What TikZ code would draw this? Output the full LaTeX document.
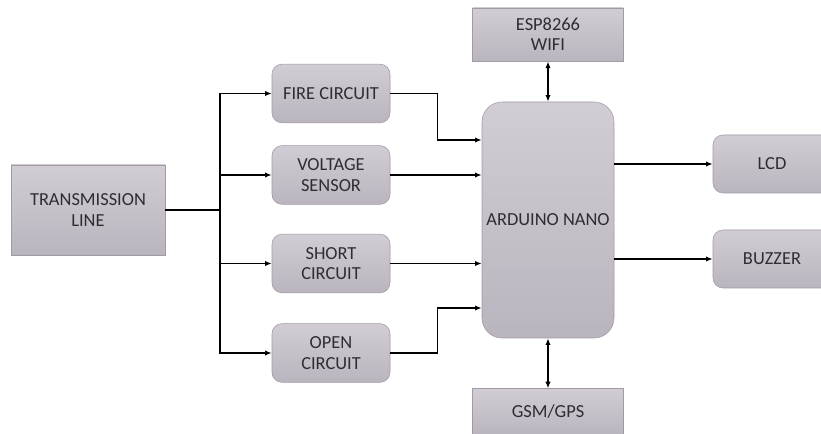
\documentclass[tikz,border=0pt]{standalone}
\usepackage{fontspec}
\setmainfont{Carlito}
\usepackage{xcolor}
\usepackage{tikz}
\usetikzlibrary{calc, arrows.meta, positioning}

\definecolor{boxtop}{RGB}{210,205,212}
\definecolor{boxbot}{RGB}{186,180,190}
\definecolor{boxline}{RGB}{160,154,166}
\definecolor{boxtext}{RGB}{45,45,50}

\begin{document}
\begin{tikzpicture}[
      x=0.75pt, y=-0.75pt,
      base/.style={draw=boxline, top color=boxtop, bottom color=boxbot,
                   text=boxtext, align=center, inner sep=1pt,
                   font=\fontsize{13.8}{15.2}\selectfont},
      sqbox/.style={base, minimum width=113pt, minimum height=40pt},
      rbox/.style={base, rounded corners=7.5pt, minimum width=88.5pt,
                   minimum height=44pt},
      line/.style={line width=1pt, black},
      arr/.style={line, -{Latex[length=5pt, width=4pt]}},
      darr/.style={line, {Latex[length=5pt, width=4pt]}-{Latex[length=5pt, width=4pt]}}
    ]
    \useasboundingbox (0,0) rectangle (821,434);

    \node[sqbox, minimum width=115.5pt, minimum height=67.5pt] (tl) at (88,210)
      {TRANSMISSION\\LINE};

    \node[rbox] (fire)  at (331,93.5)  {FIRE CIRCUIT};
    \node[rbox] (volt)  at (331,175)   {VOLTAGE\\SENSOR};
    \node[rbox] (short) at (331,263.5) {SHORT\\CIRCUIT};
    \node[rbox] (open)  at (331,353)   {OPEN\\CIRCUIT};

    \node[base, rounded corners=15pt, minimum width=99pt, minimum height=177pt]
      (ard) at (548,220) {ARDUINO NANO};

    \node[sqbox] (esp) at (548,34.5) {ESP8266\\WIFI};
    \node[sqbox, minimum height=35pt] (gsm) at (548,412) {GSM/GPS};

    \node[rbox, minimum height=43.5pt] (lcd) at (772,164) {LCD};
    \node[rbox, minimum height=43.5pt] (buz) at (772,259) {BUZZER};

    % split of the line into the four sensing circuits
    \coordinate (split) at (220,210);
    \draw[line] (tl.east) -- (split);
    \draw[arr] (split) |- (fire.west);
    \draw[arr] (split) |- (volt.west);
    \draw[arr] (split) |- (short.west);
    \draw[arr] (split) |- (open.west);

    \draw[arr] (fire.east) -- ++(47,0) |- ([yshift=60pt]ard.west);
    \draw[arr] (volt) -- (volt -| ard.west);
    \draw[arr] (short) -- (short -| ard.west);
    \draw[arr] (open.east) -- ++(47,0) |- ([yshift=-66pt]ard.west);

    \draw[darr] (esp) -- (ard);
    \draw[darr] (ard) -- (gsm);

    \draw[arr] (ard.east |- lcd) -- (lcd);
    \draw[arr] (ard.east |- buz) -- (buz);
  \end{tikzpicture}
\end{document}
